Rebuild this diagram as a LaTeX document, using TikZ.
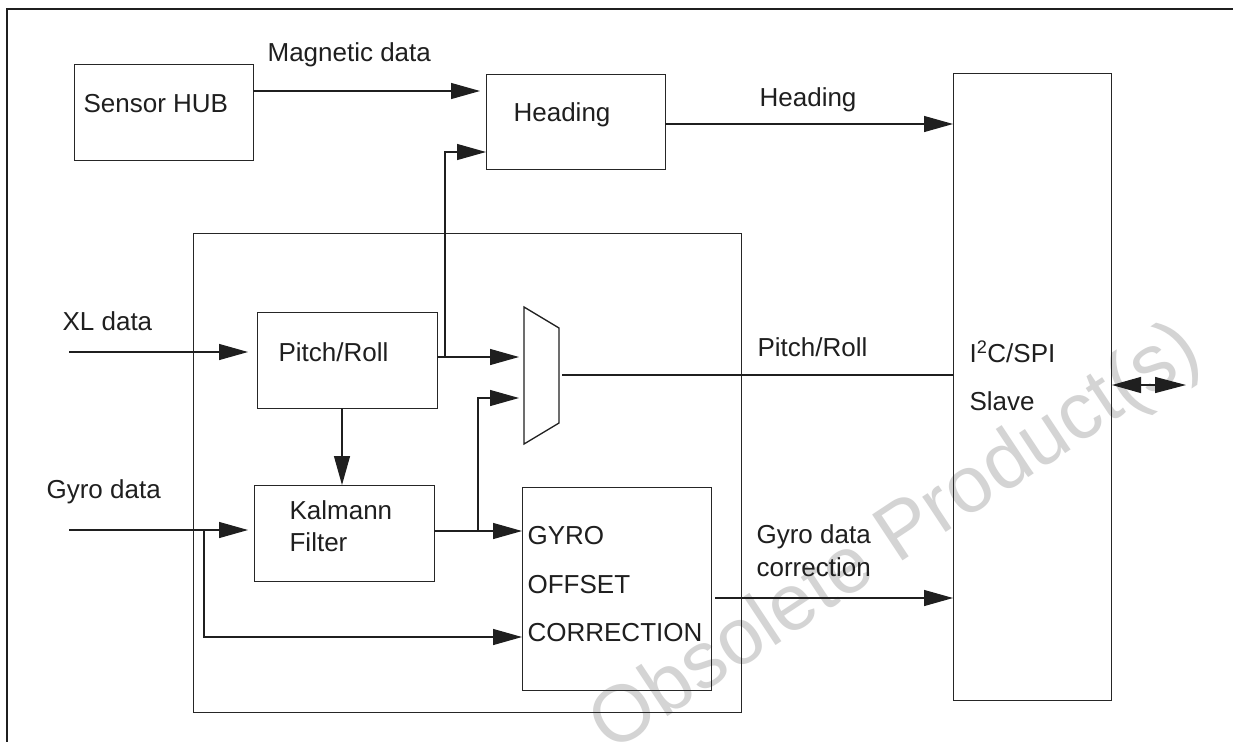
\documentclass[tikz,border=0pt]{standalone}
\usepackage{fontspec}
\setmainfont{Liberation Sans}
\usetikzlibrary{arrows.meta}
\begin{document}
\begin{tikzpicture}[x=1pt,y=-1pt,
  line width=1.2pt, draw=black!88,
  box/.style={draw=black!85, line width=1.3pt, minimum width=#1, inner sep=0, anchor=north west},
  lbl/.style={anchor=west, inner sep=0, font=\fontsize{26}{30}\selectfont, text=black!88},
  arr/.style={-{Triangle[length=29pt,width=16pt]}},
  wm/.style={inner sep=0, font=\fontsize{80}{86}\selectfont, text=black!17, rotate=33.5}]
\useasboundingbox (0,0) rectangle (1233,742);
\fill[white] (0,0) rectangle (1233,742);
% watermark
\node[wm] (wmark) at (897,540) {Obsolete Product(s)};
% frame
\draw[line width=1.4pt] (1233,9) -- (7,9) -- (7,742);
% boxes
\node[box=179pt, minimum height=96pt] (hub) at (74,64) {};
\node[box=179pt, minimum height=95pt] (heading) at (486,74) {};
\node[box=158pt, minimum height=627pt] (i2c) at (953,73) {};
\node[box=548pt, minimum height=479pt] (big) at (193,233) {};
\node[box=180pt, minimum height=96pt] (pitch) at (257,312) {};
\node[box=180pt, minimum height=96pt] (kalman) at (254,485) {};
\node[box=189pt, minimum height=203pt] (goc) at (522,487) {};
% multiplexer
\draw[line width=1.3pt] (524,307) coordinate (muxtl) -- (559,328) -- (559,423) -- (524,444) -- cycle;
\coordinate (mux1) at (519,357);
\coordinate (mux2) at (519,398);
\coordinate (muxout) at (562,375);
% texts
\node[lbl] (thub) at (83,104) {Sensor HUB};
\node[lbl] (tmag) at (267,55) {Magnetic data};
\node[lbl] (thead) at (513,115) {Heading};
\node[lbl] (theadl) at (759,100) {Heading};
\node[lbl] (txl) at (62,321) {XL data};
\node[lbl] (tpitch) at (278,352) {Pitch/Roll};
\node[lbl] (tgyro) at (46,492) {Gyro data};
\node[lbl] (tkal1) at (289,510) {Kalmann};
\node[lbl] (tkal2) at (289,542) {Filter};
\node[lbl] (tg1) at (527,536) {GYRO};
\node[lbl] (tg2) at (527,585) {OFFSET};
\node[lbl] (tg3) at (527,633) {CORRECTION};
\node[lbl] (tprl) at (757,347) {Pitch/Roll};
\node[lbl] (tgc1) at (756,537) {Gyro data};
\node[lbl] (tgc2) at (756,567) {correction};
\node[lbl] (ti2c) at (969,352) {I\textsuperscript{2}C/SPI};
\node[lbl] (tslave) at (969,401) {Slave};
% connectors
\coordinate (magin) at (253,91);
\draw[arr, shorten >=6pt] (magin) -- (heading.west |- magin);
\coordinate (hdout) at (665,124);
\draw[arr] (hdout) -- (i2c.west |- hdout);
\coordinate (xlin) at (69,352);
\draw[arr, shorten >=9pt] (xlin) -- (pitch.west |- xlin);
\coordinate (pout) at (437,357);
\draw[arr] (pout) -- (mux1);
\coordinate (j1) at (445,357);
\coordinate (hdin) at (486,152);
\draw[arr] (j1) |- (hdin);
\draw[arr] (342,408) -- (342,485);
\coordinate (gyin) at (69,530);
\draw[arr, shorten >=6pt] (gyin) -- (kalman.west |- gyin);
\coordinate (j2) at (204,530);
\coordinate (gocin2) at (522,637);
\draw[arr] (j2) |- (gocin2);
\coordinate (kout) at (434,531);
\draw[arr] (kout) -- (goc.west |- kout);
\coordinate (j3) at (478,531);
\draw[arr] (j3) |- (mux2);
\draw (muxout) -- (i2c.west |- muxout);
\coordinate (gout) at (715,598);
\draw[arr] (gout) -- (i2c.west |- gout);
\coordinate (bi1) at (1112,385);
\coordinate (bi2) at (1186,385);
\draw[{Triangle[length=29pt,width=16pt]}-{Triangle[length=31pt,width=16pt]}] (bi1) -- (bi2);
\end{tikzpicture}
\end{document}
